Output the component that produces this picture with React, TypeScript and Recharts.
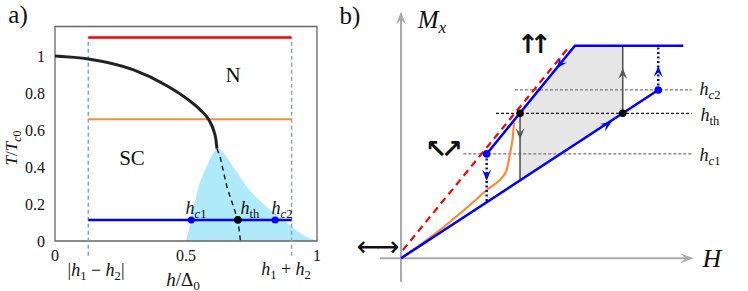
import React from "react";
import {
  Area,
  ComposedChart,
  Line,
  ReferenceArea,
  ReferenceLine,
  Scatter,
  XAxis,
  YAxis,
} from "recharts";

// ---- panel a: phase diagram T/Tc0 vs h/Δ0 ----
const hMinus = 0.127; // |h1 - h2|
const hPlus = 0.903; // h1 + h2
const tRed = 1.1;
const tOrange = 0.658;
const tBlue = 0.114;
const hC1 = 0.52;
const hTh = 0.698;
const hC2 = 0.84;

const tcCurve = [
  { h: 0, t: 1 },
  { h: 0.127, t: 0.984 },
  { h: 0.3, t: 0.925 },
  { h: 0.427, t: 0.84 },
  { h: 0.503, t: 0.77 },
  { h: 0.554, t: 0.71 },
  { h: 0.586, t: 0.658 },
  { h: 0.605, t: 0.6 },
  { h: 0.614, t: 0.55 },
  { h: 0.618, t: 0.5 },
];

const pocket = [
  { h: 0.5, t: 0 },
  { h: 0.52, t: 0.114 },
  { h: 0.548, t: 0.293 },
  { h: 0.573, t: 0.384 },
  { h: 0.605, t: 0.474 },
  { h: 0.618, t: 0.5 },
  { h: 0.688, t: 0.384 },
  { h: 0.732, t: 0.293 },
  { h: 0.795, t: 0.2 },
  { h: 0.873, t: 0.114 },
  { h: 0.95, t: 0.03 },
  { h: 1.0, t: 0 },
];

const thLine = [
  { h: 0.618, t: 0.5 },
  { h: 0.63, t: 0.457 },
  { h: 0.656, t: 0.293 },
  { h: 0.698, t: 0.114 },
  { h: 0.708, t: 0 },
];

const xTicks = [0, 0.5, 1];
const yTicks = [0, 0.2, 0.4, 0.6, 0.8, 1];

// ---- panel b: M_x vs H sketch ----
const mC1 = 0.491;
const mTh = 0.682;
const mC2 = 0.792;

const upperBranch = [
  { h: 0.403, m: mC1 },
  { h: 0.818, m: 1 },
  { h: 1.328, m: 1 },
];
const lowerBranch = [
  { h: 0, m: 0 },
  { h: 1.21, m: mC2 },
];
const redDiag = [
  { h: 0.009, m: 0.039 },
  { h: 0.795, m: 1 },
];
const orangeCurve = [
  { h: 0, m: 0 },
  { h: 0.199, m: 0.146 },
  { h: 0.403, m: 0.321 },
  { h: 0.494, m: 0.407 },
  { h: 0.513, m: 0.494 },
  { h: 0.524, m: 0.556 },
  { h: 0.532, m: 0.638 },
];
const loop = [
  { h: 0.56, lo: 0.366, hi: mTh },
  { h: 0.818, lo: 0.535, hi: 1 },
  { h: 1.043, lo: mTh, hi: 1 },
];
const jumpUp = [
  { h: 1.21, m: mC2 },
  { h: 1.21, m: 1 },
];
const jumpDown = [
  { h: 0.403, m: mC1 },
  { h: 0.403, m: 0.264 },
];
const grayDown = [
  { h: 0.56, m: mTh },
  { h: 0.56, m: 0.366 },
];
const grayUp = [
  { h: 1.043, m: mTh },
  { h: 1.043, m: 1 },
];
const thDots = [
  { h: 0.56, m: mTh },
  { h: 1.043, m: mTh },
];
const cDots = [
  { h: 0.403, m: mC1 },
  { h: 1.21, m: mC2 },
];
const blueHeads = [
  { h: 0.732, m: 0.894, dx: -1, dy: -1.2275 },
  { h: 0.991, m: 0.6425, dx: 1, dy: 0.654 },
  { h: 1.21, m: 0.905, dx: 0, dy: 1 },
  { h: 0.403, m: 0.365, dx: 0, dy: -1 },
];
const grayHeads = [
  { h: 0.56, m: 0.56, dx: 0, dy: -1 },
  { h: 1.043, m: 0.895, dx: 0, dy: 1 },
];
const axisHeads = [
  { h: 0, m: 1.16, dx: 0, dy: 1 },
  { h: 1.375, m: 0, dx: 1, dy: 0 },
];
const vAxis = [
  { h: 0, m: -0.11 },
  { h: 0, m: 1.15 },
];
const hAxis = [
  { h: -0.099, m: 0 },
  { h: 1.365, m: 0 },
];

const serif = "Liberation Serif, DejaVu Serif, serif";
const symbols = "DejaVu Sans, sans-serif";

const I = ({ children }: any) => <span style={{ fontStyle: "italic" }}>{children}</span>;
const Sub = ({ children }: any) => (
  <span style={{ fontSize: "0.7em", position: "relative", top: "0.3em" }}>{children}</span>
);

const Txt = ({ x, y, size = 16, rotate = 0, font = serif, spacing = 0, weight = 400, children }: any) => (
  <div
    style={{
      position: "absolute",
      left: x,
      top: y,
      transform: `translate(-50%, -50%) rotate(${rotate}deg)`,
      fontSize: size,
      fontFamily: font,
      fontWeight: weight,
      letterSpacing: spacing,
      lineHeight: 1,
      whiteSpace: "nowrap",
      color: "#111",
    }}
  >
    {children}
  </div>
);

const makeHead = (color: string, len: number, wid: number) => (p: any) => {
  const d = p.payload;
  const ang = (Math.atan2(-d.dy, d.dx) * 180) / Math.PI;
  return (
    <path
      d={`M0,0 L${-len},${-wid} L${-len * 0.6},0 L${-len},${wid} Z`}
      fill={color}
      transform={`translate(${p.cx},${p.cy}) rotate(${ang})`}
    />
  );
};

const dot = (color: string, r: number) => (p: any) => <circle cx={p.cx} cy={p.cy} r={r} fill={color} />;

function PanelA() {
  return (
    <ComposedChart width={330} height={291} margin={{ top: 26.5, right: 13, bottom: 0, left: 0 }}>
      <XAxis
        type="number"
        dataKey="h"
        domain={[0, 1]}
        ticks={xTicks}
        allowDataOverflow
        height={50}
        axisLine={false}
        tickLine={false}
        tickSize={0}
        tickMargin={9}
        tick={{ fill: "#111", fontSize: 16, fontFamily: serif }}
      />
      <YAxis
        type="number"
        dataKey="t"
        domain={[0, 1.16]}
        ticks={yTicks}
        allowDataOverflow
        width={55}
        axisLine={false}
        tickLine={false}
        tickSize={0}
        tickMargin={10}
        tick={{ fill: "#111", fontSize: 16, fontFamily: serif }}
      />
      <Area
        data={pocket}
        dataKey="t"
        type="monotone"
        fill="#aeeafa"
        fillOpacity={1}
        stroke="none"
        isAnimationActive={false}
      />
      <ReferenceLine
        segment={[{ x: hMinus, y: -0.08 }, { x: hMinus, y: tRed }]}
        stroke="#8fa3ad"
        strokeWidth={1.5}
        strokeDasharray="4 3"
        ifOverflow="visible"
      />
      <ReferenceLine
        segment={[{ x: hPlus, y: -0.08 }, { x: hPlus, y: tRed }]}
        stroke="#8fa3ad"
        strokeWidth={1.5}
        strokeDasharray="4 3"
        ifOverflow="visible"
      />
      <Line
        data={[{ h: hMinus, t: tRed }, { h: hPlus, t: tRed }]}
        dataKey="t"
        stroke="#ff0000"
        strokeWidth={2.5}
        dot={false}
        isAnimationActive={false}
      />
      <Line
        data={[{ h: hMinus, t: tOrange }, { h: hPlus, t: tOrange }]}
        dataKey="t"
        stroke="#ff8a33"
        strokeWidth={2}
        dot={false}
        isAnimationActive={false}
      />
      <Line
        data={tcCurve}
        dataKey="t"
        type="monotone"
        stroke="#222"
        strokeWidth={3}
        dot={false}
        isAnimationActive={false}
      />
      <Line
        data={thLine}
        dataKey="t"
        stroke="#222"
        strokeWidth={1.5}
        strokeDasharray="5 4"
        dot={false}
        isAnimationActive={false}
      />
      <Line
        data={[{ h: hMinus, t: tBlue }, { h: hPlus, t: tBlue }]}
        dataKey="t"
        stroke="#0000ff"
        strokeWidth={2.5}
        dot={false}
        isAnimationActive={false}
      />
      <Scatter
        data={[{ h: hC1, t: tBlue }, { h: hC2, t: tBlue }]}
        shape={dot("#0000ff", 3.5)}
        isAnimationActive={false}
      />
      <Scatter data={[{ h: hTh, t: tBlue }]} shape={dot("#000", 3.8)} isAnimationActive={false} />
      <ReferenceArea x1={0} x2={1} y1={0} y2={1.16} fill="none" stroke="#666" strokeWidth={1.3} />
    </ComposedChart>
  );
}

function PanelB() {
  return (
    <ComposedChart width={408} height={291} margin={{ top: 0, right: 0, bottom: 0, left: 0 }}>
      <XAxis type="number" dataKey="h" domain={[-0.2869, 1.6322]} allowDataOverflow hide />
      <YAxis type="number" dataKey="m" domain={[-0.1538, 1.215]} allowDataOverflow hide />
      <Area
        data={loop}
        dataKey={(d: any) => [d.lo, d.hi]}
        type="linear"
        fill="#e6e6e6"
        fillOpacity={1}
        stroke="none"
        isAnimationActive={false}
      />
      <Line data={vAxis} dataKey="m" stroke="#aaa" strokeWidth={2} dot={false} isAnimationActive={false} />
      <Line data={hAxis} dataKey="m" stroke="#aaa" strokeWidth={2} dot={false} isAnimationActive={false} />
      <Scatter data={axisHeads} shape={makeHead("#aaa", 13, 5)} isAnimationActive={false} />
      <Line
        data={[{ h: 0.293, m: mC1 }, { h: 1.367, m: mC1 }]}
        dataKey="m"
        stroke="#777"
        strokeWidth={1.2}
        strokeDasharray="3 2"
        dot={false}
        isAnimationActive={false}
      />
      <Line
        data={[{ h: 0.536, m: mC2 }, { h: 1.367, m: mC2 }]}
        dataKey="m"
        stroke="#777"
        strokeWidth={1.2}
        strokeDasharray="3 2"
        dot={false}
        isAnimationActive={false}
      />
      <Line
        data={[{ h: 0.447, m: mTh }, { h: 1.367, m: mTh }]}
        dataKey="m"
        stroke="#111"
        strokeWidth={1.2}
        strokeDasharray="3 2"
        dot={false}
        isAnimationActive={false}
      />
      <Line data={grayDown} dataKey="m" stroke="#555" strokeWidth={1.6} dot={false} isAnimationActive={false} />
      <Line data={grayUp} dataKey="m" stroke="#555" strokeWidth={1.6} dot={false} isAnimationActive={false} />
      <Scatter data={grayHeads} shape={makeHead("#555", 11, 4.5)} isAnimationActive={false} />
      <Line
        data={orangeCurve}
        dataKey="m"
        type="monotone"
        stroke="#ff8a33"
        strokeWidth={2.2}
        dot={false}
        isAnimationActive={false}
      />
      <Line
        data={redDiag}
        dataKey="m"
        stroke="#ff0000"
        strokeWidth={2.2}
        strokeDasharray="7 5"
        dot={false}
        isAnimationActive={false}
      />
      <Line data={upperBranch} dataKey="m" stroke="#0000ff" strokeWidth={2.5} dot={false} isAnimationActive={false} />
      <Line data={lowerBranch} dataKey="m" stroke="#0000ff" strokeWidth={2.5} dot={false} isAnimationActive={false} />
      <Line
        data={jumpUp}
        dataKey="m"
        stroke="#0000ff"
        strokeWidth={2.5}
        strokeDasharray="2 2.5"
        dot={false}
        isAnimationActive={false}
      />
      <Line
        data={jumpDown}
        dataKey="m"
        stroke="#0000ff"
        strokeWidth={2.5}
        strokeDasharray="2 2.5"
        dot={false}
        isAnimationActive={false}
      />
      <Scatter data={blueHeads} shape={makeHead("#0000ff", 11, 4.5)} isAnimationActive={false} />
      <Scatter data={cDots} shape={dot("#0000ff", 3.8)} isAnimationActive={false} />
      <Scatter data={thDots} shape={dot("#000", 3.8)} isAnimationActive={false} />
    </ComposedChart>
  );
}

export default function App() {
  return (
    <div style={{ position: "absolute", left: 0, top: 0, width: 748, height: 291, background: "#fff", overflow: "hidden" }}>
      <div style={{ position: "absolute", left: 0, top: 0 }}>
        <PanelA />
      </div>
      <div style={{ position: "absolute", left: 340, top: 0 }}>
        <PanelB />
      </div>

      {/* panel a labels */}
      <Txt x={18} y={14} size={25}>a)</Txt>
      <Txt x={11} y={148} size={17} rotate={-90}>
        <I>T</I>/<I>T</I>
        <Sub>
          <I>c</I>0
        </Sub>
      </Txt>
      <Txt x={233} y={75} size={21}>N</Txt>
      <Txt x={132} y={158} size={21}>SC</Txt>
      <Txt x={196} y={208} size={18}>
        <I>h</I>
        <Sub>
          <I>c</I>1
        </Sub>
      </Txt>
      <Txt x={250} y={208} size={18}>
        <I>h</I>
        <Sub>th</Sub>
      </Txt>
      <Txt x={282} y={208} size={18}>
        <I>h</I>
        <Sub>
          <I>c</I>2
        </Sub>
      </Txt>
      <Txt x={96} y={270} size={18}>
        |<I>h</I>
        <Sub>1</Sub> − <I>h</I>
        <Sub>2</Sub>|
      </Txt>
      <Txt x={286} y={269} size={18}>
        <I>h</I>
        <Sub>1</Sub> + <I>h</I>
        <Sub>2</Sub>
      </Txt>
      <Txt x={183} y={279} size={19}>
        <I>h</I>/Δ<Sub>0</Sub>
      </Txt>

      {/* panel b labels */}
      <Txt x={350} y={15} size={25}>b)</Txt>
      <Txt x={432} y={19} size={25}>
        <I>M</I>
        <Sub>
          <I>x</I>
        </Sub>
      </Txt>
      <Txt x={712} y={259} size={26}>
        <I>H</I>
      </Txt>
      <Txt x={710} y={89} size={18}>
        <I>h</I>
        <Sub>
          <I>c</I>2
        </Sub>
      </Txt>
      <Txt x={710} y={115} size={18}>
        <I>h</I>
        <Sub>th</Sub>
      </Txt>
      <Txt x={710} y={155} size={18}>
        <I>h</I>
        <Sub>
          <I>c</I>1
        </Sub>
      </Txt>
      <Txt x={530} y={44} size={26} font={symbols} spacing={-9} weight={700}>
        ↑↑
      </Txt>
      <Txt x={441} y={149} size={26} font={symbols} spacing={-6} weight={700}>
        ↖↗
      </Txt>
      <Txt x={376} y={247} size={28} font={symbols} spacing={-4}>
        ←→
      </Txt>
    </div>
  );
}
